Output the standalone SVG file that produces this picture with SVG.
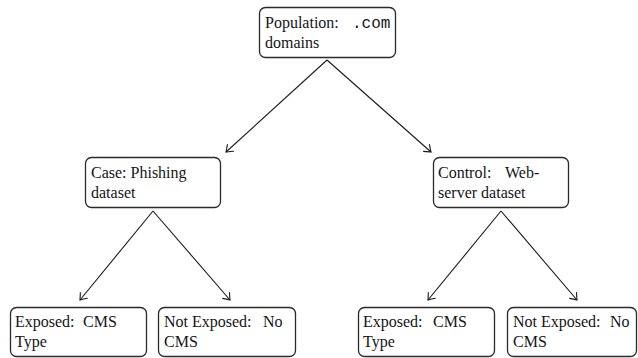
<svg xmlns="http://www.w3.org/2000/svg" width="638" height="358" viewBox="0 0 638 358">
<defs>
<marker id="arr" viewBox="-8 -6 10 12" markerWidth="10" markerHeight="12" refX="0" refY="0" orient="auto" markerUnits="userSpaceOnUse">
<path d="M -6 -4.5 Q -1.5 -1 0 0 Q -1.5 1 -6 4.5" fill="none" stroke="#1a1a1a" stroke-width="1.1" stroke-linecap="round"/>
</marker>
</defs>
<style>
.box{fill:#fff;stroke:#2a2a2a;stroke-width:1.3}
.t{font-family:"Liberation Serif","Times New Roman",serif;font-size:16px;fill:#151515}
.m{font-family:"Liberation Mono","Courier New",monospace;font-size:16px;fill:#151515}
.edge{stroke:#1a1a1a;stroke-width:1.1;fill:none;marker-end:url(#arr)}
</style>
<g id="connectors">
<line class="edge" x1="327" y1="60" x2="226" y2="152"/>
<line class="edge" x1="327" y1="60" x2="431" y2="152"/>
<line class="edge" x1="153" y1="211" x2="80" y2="300"/>
<line class="edge" x1="153" y1="211" x2="230" y2="300"/>
<line class="edge" x1="501" y1="211" x2="428" y2="300"/>
<line class="edge" x1="501" y1="211" x2="577" y2="300"/>
</g>
<g id="population">
<rect class="box" x="259.5" y="7.5" width="136" height="50" rx="6"/>
<text class="t" x="265" y="28">Population: <tspan class="m" x="352">.com</tspan></text>
<text class="t" x="265" y="48">domains</text>
</g>
<g id="case">
<rect class="box" x="85.5" y="157.5" width="135" height="50" rx="6"/>
<text class="t" x="91" y="178">Case: Phishing</text>
<text class="t" x="91" y="198">dataset</text>
</g>
<g id="control">
<rect class="box" x="433.5" y="157.5" width="135" height="50" rx="6"/>
<text class="t" x="438" y="178">Control: <tspan x="505">Web-</tspan></text>
<text class="t" x="438" y="198">server dataset</text>
</g>
<g id="case-exposed">
<rect class="box" x="10.5" y="307.5" width="136" height="49" rx="6"/>
<text class="t" x="15" y="327">Exposed: <tspan x="83">CMS</tspan></text>
<text class="t" x="15" y="347">Type</text>
</g>
<g id="case-not-exposed">
<rect class="box" x="158.5" y="307.5" width="137" height="49" rx="6"/>
<text class="t" x="164" y="327">Not Exposed: <tspan x="263">No</tspan></text>
<text class="t" x="164" y="347">CMS</text>
</g>
<g id="control-exposed">
<rect class="box" x="358.5" y="307.5" width="136" height="49" rx="6"/>
<text class="t" x="363" y="327">Exposed: <tspan x="433">CMS</tspan></text>
<text class="t" x="363" y="347">Type</text>
</g>
<g id="control-not-exposed">
<rect class="box" x="507.5" y="307.5" width="129" height="49" rx="6"/>
<text class="t" x="513" y="327">Not Exposed: <tspan x="610">No</tspan></text>
<text class="t" x="513" y="347">CMS</text>
</g>
</svg>
